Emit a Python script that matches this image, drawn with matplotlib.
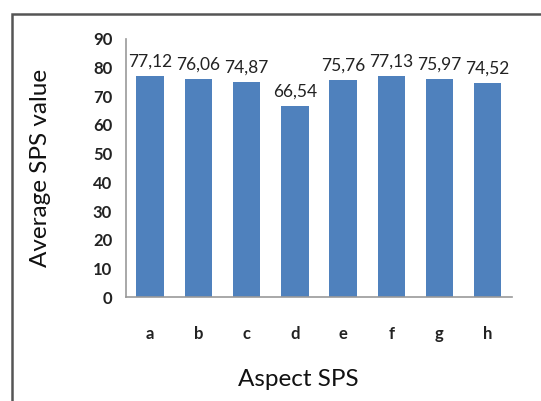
import matplotlib.pyplot as plt
from matplotlib.patches import Rectangle

# Data
aspects = ["a", "b", "c", "d", "e", "f", "g", "h"]
values = [77.12, 76.06, 74.87, 66.54, 75.76, 77.13, 75.97, 74.52]
value_labels = ["77,12", "76,06", "74,87", "66,54", "75,76", "77,13", "75,97", "74,52"]
y_ticks = [0, 10, 20, 30, 40, 50, 60, 70, 80, 90]

plt.rcParams["font.family"] = ["Lato", "DejaVu Sans"]

fig = plt.figure(figsize=(5.41, 4.01), dpi=100)
ax = fig.add_axes([0.233, 0.259, 0.713, 0.644])

# outer frame, cut off at right and bottom as in the source
fig.patches.append(
    Rectangle((12 / 541, -0.1), 1.2, 1.1 - 14 / 401,
              transform=fig.transFigure, fill=False,
              edgecolor="#555555", linewidth=1.8)
)

x = range(len(aspects))
ax.bar(x, values, width=0.57, color="#4F81BD")

for xi, v, lab in zip(x, values, value_labels):
    ax.annotate(lab, (xi, v), xytext=(0, 4.5), textcoords="offset points",
                ha="center", va="bottom", fontsize=12.5, color="#222222")

ax.set_xlim(-0.5, len(aspects) - 0.5)
ax.set_ylim(0, 90)
ax.set_yticks(y_ticks)
ax.set_xticks(list(x))
ax.set_xticklabels(aspects)
ax.tick_params(axis="both", length=0, labelsize=12)
ax.tick_params(axis="y", pad=10)
ax.tick_params(axis="x", pad=21)
for t in ax.get_xticklabels() + ax.get_yticklabels():
    t.set_fontweight("bold")
    t.set_color("#222222")

for s in ["top", "right"]:
    ax.spines[s].set_visible(False)
for s in ["left", "bottom"]:
    ax.spines[s].set_color("#999999")
    ax.spines[s].set_linewidth(1.2)

fig.text(298 / 541, 1 - 380 / 401, "Aspect SPS", ha="center", va="center",
         fontsize=17.5, color="#111111")
fig.text(41 / 541, 1 - 168 / 401, "Average SPS value", ha="center", va="center",
         rotation=90, fontsize=17.5, color="#111111")

fig.savefig("out.png", dpi=100)
